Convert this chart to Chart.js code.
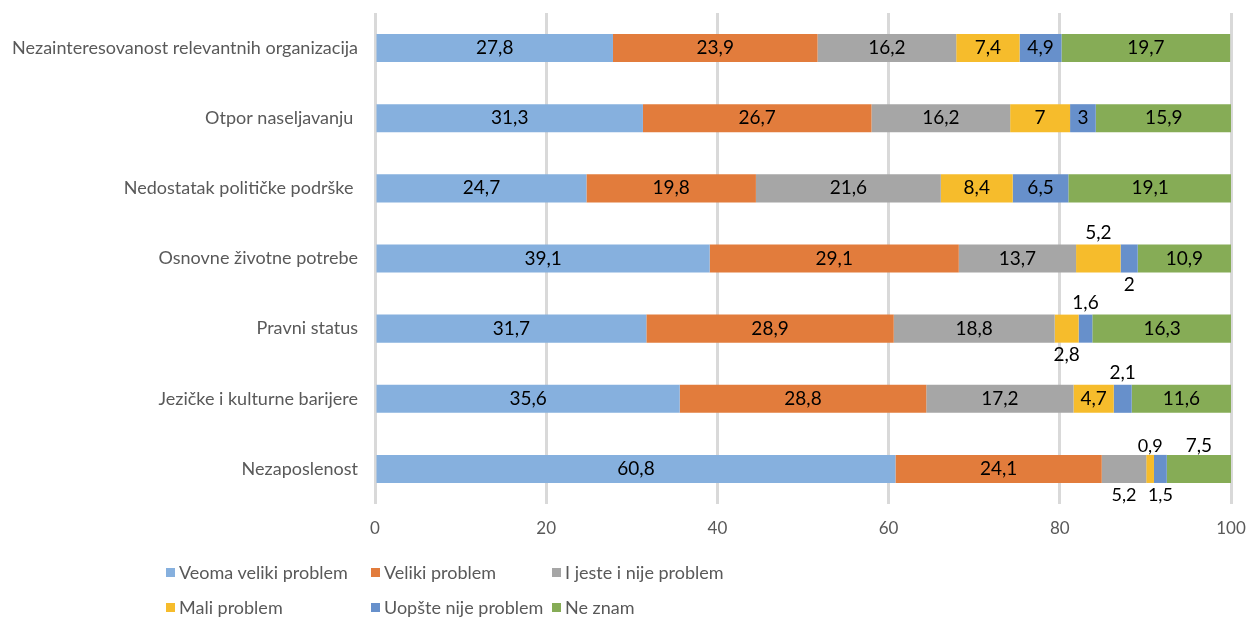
<!DOCTYPE html>
<html>
<head>
<meta charset="utf-8">
<script src="https://cdn.jsdelivr.net/npm/chart.js@4"></script>
<style>
  html, body { margin: 0; padding: 0; background: #ffffff; }
  #wrap { position: relative; width: 1250px; height: 617px; }
  #c { position: absolute; left: 0; top: 0; }
  #legend { position: absolute; left: 0; top: 0; width: 1250px; height: 617px; pointer-events: none;
            font-family: Lato, "Open Sans", sans-serif; font-size: 18px; color: #595959; }
  .li { position: absolute; white-space: nowrap; display: flex; align-items: center; }
  .sw { width: 9px; height: 9px; margin-right: 4px; }
</style>
</head>
<body>
<div id="wrap">
  <canvas id="c" width="1250" height="617"></canvas>
  <div id="legend"></div>
</div>
<script>
// ---- data ----
const categories = [
  "Nezainteresovanost relevantnih organizacija",
  "Otpor naseljavanju ",
  "Nedostatak političke podrške ",
  "Osnovne životne potrebe",
  "Pravni status",
  "Jezičke i kulturne barijere",
  "Nezaposlenost"
];
const seriesNames = ["Veoma veliki problem", "Veliki problem", "I jeste i nije problem", "Mali problem", "Uopšte nije problem", "Ne znam"];
const veomaVeliki = [27.8, 31.3, 24.7, 39.1, 31.7, 35.6, 60.8];
const veliki      = [23.9, 26.7, 19.8, 29.1, 28.9, 28.8, 24.1];
const jesteNije   = [16.2, 16.2, 21.6, 13.7, 18.8, 17.2, 5.2];
const mali        = [7.4, 7, 8.4, 5.2, 2.8, 4.7, 0.9];
const uopste      = [4.9, 3, 6.5, 2, 1.6, 2.1, 1.5];
const neZnam      = [19.7, 15.9, 19.1, 10.9, 16.3, 11.6, 7.5];
const xTicks = [0, 20, 40, 60, 80, 100];

// ---- styles ----
const colors = ["#86B0DE", "#E27C3C", "#A6A6A6", "#F6BC2C", "#6790CB", "#86AC56"];
// label placement for narrow segments: key "series-category" -> vertical offset in px
const labelOffset = {
  "3-3": -26, "4-3": 26,
  "3-4": 26, "4-4": -26,
  "4-5": -26,
  "2-6": 26, "3-6": -23, "4-6": 26, "5-6": -23
};
// legend layout (grid positions)
const legendPos = [
  [166, 572], [371, 572], [552, 572],
  [166, 607], [371, 607], [552, 607]
];
const FONT = 'Lato, "Open Sans", sans-serif';

const allSeries = [veomaVeliki, veliki, jesteNije, mali, uopste, neZnam];
const fmt = v => String(v).replace('.', ',');

const labelPlugin = {
  id: 'segLabels',
  afterDatasetsDraw(chart) {
    const ctx = chart.ctx;
    ctx.save();
    ctx.fillStyle = '#000000';
    ctx.textAlign = 'center';
    ctx.textBaseline = 'middle';
    chart.data.datasets.forEach((ds, di) => {
      const meta = chart.getDatasetMeta(di);
      meta.data.forEach((el, ci) => {
        const v = ds.data[ci];
        const cx = (el.x + el.base) / 2;
        const off = labelOffset[di + '-' + ci] || 0;
        const small = (ci === 6 && off !== 0 && di !== 5);
        ctx.font = (small ? '18px ' : '19px ') + FONT;
        ctx.fillText(fmt(v), cx, el.y + off);
      });
    });
    ctx.restore();
  }
};

new Chart(document.getElementById('c'), {
  type: 'bar',
  data: {
    labels: categories,
    datasets: allSeries.map((d, i) => ({
      label: seriesNames[i],
      data: d,
      backgroundColor: colors[i],
      borderWidth: 0,
      barPercentage: 0.4,
      categoryPercentage: 1.0
    }))
  },
  options: {
    indexAxis: 'y',
    responsive: false,
    animation: false,
    devicePixelRatio: 1,
    layout: { padding: 0 },
    plugins: { legend: { display: false }, tooltip: { enabled: false } },
    scales: {
      x: {
        stacked: true,
        min: 0, max: 100,
        afterBuildTicks: s => { s.ticks = xTicks.map(v => ({ value: v })); },
        afterFit: s => { s.height = 113; s.paddingLeft = 0; s.paddingRight = 19; },
        grid: { color: '#D9D9D9', lineWidth: 3, drawTicks: false },
        border: { display: false },
        ticks: { padding: 14, color: '#595959', font: { family: FONT, size: 17 } }
      },
      y: {
        stacked: true,
        afterFit: s => { s.width = 375; s.paddingTop = 13; s.paddingBottom = 0; },
        grid: { display: false, drawTicks: false },
        border: { display: false },
        ticks: { padding: 17, color: '#595959', font: { family: FONT, size: 18 } }
      }
    }
  },
  plugins: [labelPlugin]
});

// legend
const lg = document.getElementById('legend');
seriesNames.forEach((n, i) => {
  const d = document.createElement('div');
  d.className = 'li';
  d.style.left = legendPos[i][0] + 'px';
  d.style.top = (legendPos[i][1] - 11) + 'px';
  d.style.height = '22px';
  d.innerHTML = '<span class="sw" style="background:' + colors[i] + '"></span><span>' + n + '</span>';
  lg.appendChild(d);
});
</script>
</body>
</html>
